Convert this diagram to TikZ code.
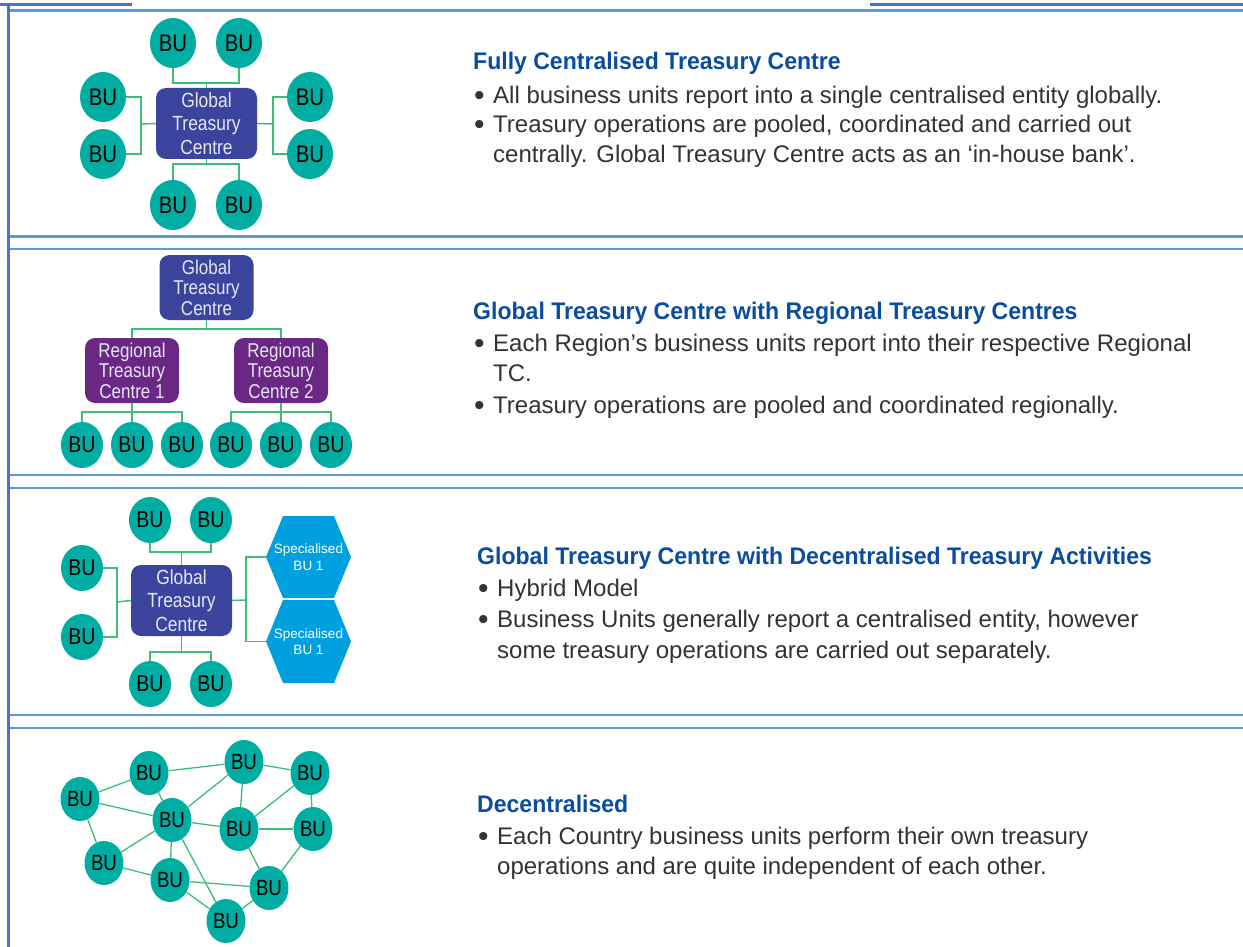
\documentclass[tikz,border=0pt]{standalone}
\usepackage{fontspec}
\setmainfont{Liberation Sans}
\newfontfamily\condfont{Liberation Sans}[FakeStretch=0.85]
\newfontfamily\titlefont{Liberation Sans}[FakeStretch=0.96]
\usetikzlibrary{shapes.geometric}
\definecolor{buteal}{HTML}{00ADA2}
\definecolor{gtcblue}{HTML}{3A449C}
\definecolor{regpurple}{HTML}{6B2784}
\definecolor{hexblue}{HTML}{00A0E0}
\definecolor{linkgreen}{HTML}{3DBE78}
\definecolor{titleblue}{HTML}{0A4D9E}
\definecolor{bodygray}{HTML}{333333}
\definecolor{seplight}{HTML}{5B9BD5}
\definecolor{sepdark}{HTML}{4874C8}
\definecolor{boxtext}{HTML}{E6E6F5}
\begin{document}
\begin{tikzpicture}[x=1pt,y=-1pt,
  bu/.style={ellipse, fill=buteal, text=black, inner sep=0pt,
    font=\condfont\fontsize{24}{24}\selectfont, minimum width=46, minimum height=50},
  busmall/.style={bu, minimum width=42, minimum height=46, font=\condfont\fontsize{23}{23}\selectfont},
  bumesh/.style={bu, minimum width=39, minimum height=44, font=\condfont\fontsize{22}{22}\selectfont},
  gtc/.style={rectangle, rounded corners=10, fill=gtcblue, text=boxtext, align=center,
    inner sep=0pt, minimum width=101, minimum height=71, font=\condfont\fontsize{20.5}{23.5}\selectfont},
  gtcsmall/.style={gtc, minimum width=94, minimum height=65, font=\condfont\fontsize{20}{20.5}\selectfont},
  reg/.style={gtcsmall, fill=regpurple},
  hextext/.style={rectangle, inner sep=0pt, minimum width=85, minimum height=82, align=center,
    text=white, font=\fontsize{13.5}{16.5}\selectfont},
  link/.style={draw=linkgreen, line width=1.5pt},
  mesh/.style={draw=linkgreen, line width=1.3pt},
  sep/.style={draw=seplight, line width=2.2pt},
  title/.style={anchor=base west, inner sep=0pt, text=titleblue,
    font=\titlefont\bfseries\fontsize{24}{28}\selectfont},
  body/.style={anchor=base west, inner sep=0pt, text=bodygray,
    font=\fontsize{24}{30}\selectfont},
  bullet/.style={anchor=base west, inner sep=0pt, text=bodygray,
    font=\fontsize{30}{30}\selectfont}
]
\useasboundingbox (0,0) rectangle (1243,947);
\fill[white] (0,0) rectangle (1243,947);

% frame lines
\draw[draw=sepdark, line width=2.5pt] (0,4.5) -- (132,4.5);
\draw[draw=sepdark, line width=2.5pt] (870,4.5) -- (1243,4.5);
\draw[sep] (8.5,10.5) -- (1243,10.5);
\draw[sep] (8.5,236.5) -- (1243,236.5);
\draw[sep] (8.5,249) -- (1243,249);
\draw[sep] (8.5,475) -- (1243,475);
\draw[sep] (8.5,488) -- (1243,488);
\draw[sep] (8.5,715) -- (1243,715);
\draw[sep] (8.5,728) -- (1243,728);
\draw[draw=sepdark, line width=2.2pt] (8.5,5) -- (8.5,947);

% ---------------- Panel 1 ----------------
\node[gtc] (g1) at (206.5,123.5) {Global\\Treasury\\Centre};
\node[bu] (p1t1) at (173,43) {BU};
\node[bu] (p1t2) at (239,43) {BU};
\node[bu] (p1l1) at (103,97) {BU};
\node[bu] (p1l2) at (103,154) {BU};
\node[bu] (p1r1) at (310,97) {BU};
\node[bu] (p1r2) at (310,154) {BU};
\node[bu] (p1b1) at (173,205) {BU};
\node[bu] (p1b2) at (239,205) {BU};
\coordinate (j1t) at (206.5,83);
\coordinate (j1l) at (141,124);
\coordinate (j1r) at (273,124);
\coordinate (j1b) at (206.5,164);
\draw[link] (p1t1.south) |- (j1t) -| (p1t2.south);
\draw[link] (j1t) -- (g1.north);
\draw[link] (p1l1.east) -| (j1l) |- (p1l2.east);
\draw[link] (j1l) -- (g1.west);
\draw[link] (p1r1.west) -| (j1r) |- (p1r2.west);
\draw[link] (j1r) -- (g1.east);
\draw[link] (p1b1.north) |- (j1b) -| (p1b2.north);
\draw[link] (j1b) -- (g1.south);

\node[title] (t1) at (473,70) {Fully Centralised Treasury Centre};
\node[bullet] (t1b1) at (474,106) {•};
\node[body] (t1l1) at (493,104) {All business units report into a single centralised entity globally.};
\node[bullet] (t1b2) at (474,135) {•};
\node[body] (t1l2) at (493,133) {Treasury operations are pooled, coordinated and carried out};
\node[body] (t1l3) at (493,163) {centrally. Global Treasury Centre acts as an ‘in-house bank’.};

% ---------------- Panel 2 ----------------
\node[gtcsmall] (g2) at (206.5,287.5) {Global\\Treasury\\Centre};
\node[reg] (r1) at (132,370.5) {Regional\\Treasury\\Centre 1};
\node[reg] (r2) at (281,370.5) {Regional\\Treasury\\Centre 2};
\node[busmall] (c1) at (82,445) {BU};
\node[busmall] (c2) at (132,445) {BU};
\node[busmall] (c3) at (182,445) {BU};
\node[busmall] (c4) at (231,445) {BU};
\node[busmall] (c5) at (281,445) {BU};
\node[busmall] (c6) at (331,445) {BU};
\coordinate (j2) at (206.5,329);
\coordinate (j2a) at (132,412);
\coordinate (j2b) at (281,412);
\draw[link] (g2.south) -- (j2);
\draw[link] (r1.north) |- (j2) -| (r2.north);
\draw[link] (r1.south) -- (j2a);
\draw[link] (c1.north) |- (j2a) -| (c3.north);
\draw[link] (c2.north) -- (j2a);
\draw[link] (r2.south) -- (j2b);
\draw[link] (c4.north) |- (j2b) -| (c6.north);
\draw[link] (c5.north) -- (j2b);

\node[title] (t2) at (473,319) {Global Treasury Centre with Regional Treasury Centres};
\node[bullet] (t2b1) at (474,353) {•};
\node[body] (t2l1) at (493,351) {Each Region’s business units report into their respective Regional};
\node[body] (t2l2) at (493,381) {TC.};
\node[bullet] (t2b2) at (474,415) {•};
\node[body] (t2l3) at (493,413) {Treasury operations are pooled and coordinated regionally.};

% ---------------- Panel 3 ----------------
\fill[hexblue] (266,557) -- (283,516) -- (334,516) -- (351,557) -- (334,598) -- (283,598) -- cycle;
\fill[hexblue] (266,641.5) -- (283,600) -- (334,600) -- (351,641.5) -- (334,683) -- (283,683) -- cycle;
\node[hextext] (h1) at (308.5,557) {Specialised\\BU 1};
\node[hextext] (h2) at (308.5,641.5) {Specialised\\BU 1};
\node[gtc] (g3) at (181.5,600.5) {Global\\Treasury\\Centre};
\node[busmall] (q1) at (150,520) {BU};
\node[busmall] (q2) at (211,520) {BU};
\node[busmall] (q3) at (82,568) {BU};
\node[busmall] (q4) at (82,637) {BU};
\node[busmall] (q5) at (150,684) {BU};
\node[busmall] (q6) at (211,684) {BU};
\coordinate (j3t) at (181.5,552);
\coordinate (j3l) at (117,602);
\coordinate (j3b) at (181.5,652);
\coordinate (j3r) at (246,600);
\draw[link] (q1.south) |- (j3t) -| (q2.south);
\draw[link] (j3t) -- (g3.north);
\draw[link] (q3.east) -| (j3l) |- (q4.east);
\draw[link] (j3l) -- (g3.west);
\draw[link] (q5.north) |- (j3b) -| (q6.north);
\draw[link] (j3b) -- (g3.south);
\draw[link] (h1.west) -| (j3r) |- (h2.west);
\draw[link] (j3r) -- (g3.east);

\node[title] (t3) at (477,564) {Global Treasury Centre with Decentralised Treasury Activities};
\node[bullet] (t3b1) at (478,598) {•};
\node[body] (t3l1) at (497,596) {Hybrid Model};
\node[bullet] (t3b2) at (478,629) {•};
\node[body] (t3l2) at (497,627) {Business Units generally report a centralised entity, however};
\node[body] (t3l3) at (497,658) {some treasury operations are carried out separately.};

% ---------------- Panel 4 ----------------
\node[bumesh] (mA) at (80,799) {BU};
\node[bumesh] (mB) at (149,773) {BU};
\node[bumesh] (mC) at (244,762) {BU};
\node[bumesh] (mD) at (310,773) {BU};
\node[bumesh] (mE) at (172,820) {BU};
\node[bumesh] (mF) at (239,829) {BU};
\node[bumesh] (mG) at (313,829) {BU};
\node[bumesh] (mH) at (104,863) {BU};
\node[bumesh] (mI) at (170,880) {BU};
\node[bumesh] (mJ) at (269,888) {BU};
\node[bumesh] (mK) at (226,921) {BU};
\draw[mesh] (mA) -- (mB);
\draw[mesh] (mB) -- (mC);
\draw[mesh] (mC) -- (mD);
\draw[mesh] (mA) -- (mE);
\draw[mesh] (mB) -- (mE);
\draw[mesh] (mC) -- (mE);
\draw[mesh] (mC) -- (mF);
\draw[mesh] (mD) -- (mF);
\draw[mesh] (mD) -- (mG);
\draw[mesh] (mE) -- (mF);
\draw[mesh] (mF) -- (mG);
\draw[mesh] (mA) -- (mH);
\draw[mesh] (mH) -- (mE);
\draw[mesh] (mE) -- (mI);
\draw[mesh] (mE) -- (mK);
\draw[mesh] (mH) -- (mI);
\draw[mesh] (mI) -- (mJ);
\draw[mesh] (mI) -- (mK);
\draw[mesh] (mF) -- (mJ);
\draw[mesh] (mG) -- (mJ);
\draw[mesh] (mJ) -- (mK);

\node[title] (t4) at (477,812) {Decentralised};
\node[bullet] (t4b1) at (478,846) {•};
\node[body] (t4l1) at (497,844) {Each Country business units perform their own treasury};
\node[body] (t4l2) at (497,874) {operations and are quite independent of each other.};
\end{tikzpicture}
\end{document}
